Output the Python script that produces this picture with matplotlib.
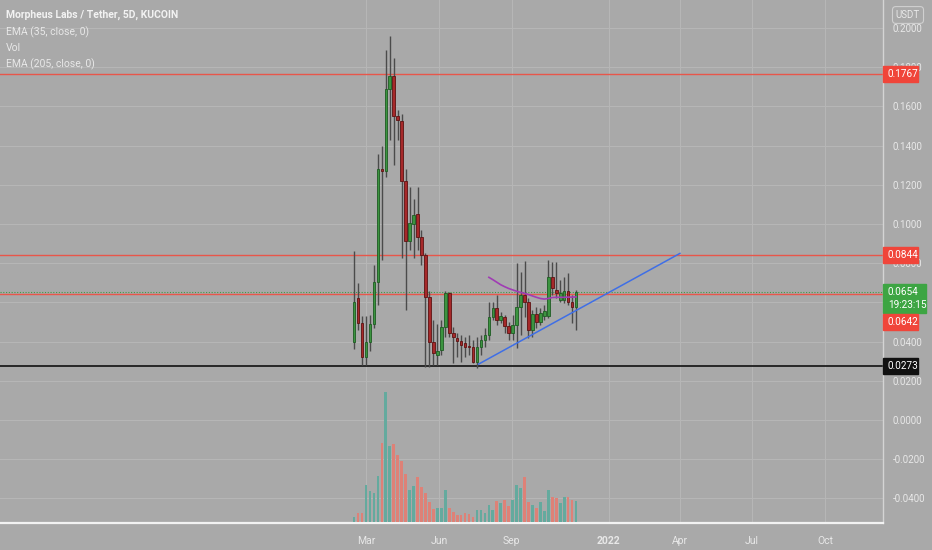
import numpy as np
import pandas as pd
import matplotlib
matplotlib.use("Agg")
import matplotlib.pyplot as plt
import matplotlib.dates as mdates
from matplotlib.patches import Rectangle

plt.rcParams['font.family'] = ['Roboto', 'DejaVu Sans']

# 5D candles, MORPHEUS LABS / USDT (KUCOIN)
first_candle = "2021-02-14"

opens = [0.040, 0.062, 0.0495, 0.032, 0.040, 0.049, 0.0706, 0.128, 0.127, 0.1687,
         0.1755, 0.155, 0.1527, 0.122, 0.0915, 0.100, 0.105, 0.0935, 0.084, 0.063,
         0.040, 0.033, 0.0355, 0.0473, 0.0646, 0.0442, 0.042, 0.0403, 0.0395, 0.0376,
         0.0374, 0.0294, 0.0374, 0.0408, 0.0434, 0.0527, 0.057, 0.051, 0.0527, 0.048,
         0.0442, 0.0485, 0.0578, 0.0638, 0.0604, 0.046, 0.054, 0.050, 0.053, 0.053,
         0.0731, 0.0663, 0.0612, 0.0612, 0.066, 0.0604, 0.0578]
highs = [0.086, 0.070, 0.053, 0.053, 0.0536, 0.079, 0.1357, 0.140, 0.1888, 0.196,
         0.1845, 0.158, 0.156, 0.128, 0.119, 0.113, 0.119, 0.097, 0.085, 0.066,
         0.051, 0.049, 0.051, 0.066, 0.0654, 0.0476, 0.0442, 0.0434, 0.0425, 0.0434,
         0.0408, 0.0425, 0.0434, 0.0468, 0.0604, 0.0604, 0.0638, 0.0553, 0.0536, 0.0502,
         0.0536, 0.0803, 0.0757, 0.081, 0.0621, 0.0561, 0.0578, 0.057, 0.0587, 0.0816,
         0.0808, 0.0808, 0.0714, 0.0731, 0.0748, 0.0638, 0.0663]
lows = [0.036, 0.046, 0.028, 0.028, 0.035, 0.047, 0.0587, 0.0816, 0.124, 0.1429,
        0.130, 0.143, 0.0826, 0.0561, 0.0867, 0.0826, 0.0867, 0.079, 0.027, 0.027,
        0.028, 0.028, 0.033, 0.0425, 0.0425, 0.029, 0.0323, 0.0298, 0.0323, 0.033,
        0.0289, 0.0264, 0.0332, 0.0374, 0.0408, 0.051, 0.0485, 0.0493, 0.0442, 0.0408,
        0.0408, 0.0366, 0.0434, 0.0527, 0.0417, 0.0425, 0.0468, 0.0485, 0.051, 0.0519,
        0.0638, 0.0621, 0.0604, 0.0595, 0.0587, 0.0493, 0.046]
closes = [0.060, 0.0495, 0.032, 0.040, 0.049, 0.0706, 0.128, 0.127, 0.1687, 0.1755,
          0.155, 0.153, 0.122, 0.0915, 0.1007, 0.1046, 0.0935, 0.084, 0.063, 0.040,
          0.034, 0.0354, 0.0473, 0.0646, 0.0442, 0.0422, 0.0403, 0.0383, 0.0374, 0.037,
          0.0298, 0.0374, 0.0408, 0.0434, 0.0527, 0.057, 0.051, 0.053, 0.048, 0.0442,
          0.0485, 0.0578, 0.0638, 0.0604, 0.046, 0.054, 0.050, 0.0544, 0.0555, 0.0731,
          0.0672, 0.0646, 0.0646, 0.066, 0.0604, 0.0578, 0.0654]
volumes = [50, 90, 90, 367, 307, 290, 457, 783, 1294, 760,
           777, 667, 607, 474, 317, 357, 450, 350, 290, 194,
           127, 140, 140, 317, 140, 94, 67, 67, 90, 74,
           50, 117, 117, 84, 167, 117, 207, 184, 217, 157,
           217, 367, 334, 450, 194, 167, 140, 194, 107, 317,
           244, 234, 190, 244, 250, 217, 204]

# EMA (205) values, visible from candle 35 on
ema_start = 34
ema_vals = [0.0728, 0.0716, 0.0703, 0.0690, 0.0680, 0.0671, 0.0664, 0.0657, 0.0651,
            0.0646, 0.0640, 0.0633, 0.0626, 0.0620, 0.0617, 0.0620, 0.0625, 0.0626,
            0.0626, 0.0626, 0.0627, 0.0627, 0.0628]

resistance_hi = 0.1767
resistance_mid = 0.0844
line_0642 = 0.0642
last_price = 0.0654
support = 0.0273
trend_dates = ["2021-07-21", "2022-04-01"]
trend_vals = [0.0285, 0.0850]

tick_dates = ["2021-03-01", "2021-06-01", "2021-09-01", "2022-01-01",
              "2022-04-01", "2022-07-01", "2022-10-01"]
tick_names = ["Mar", "Jun", "Sep", "2022", "Apr", "Jul", "Oct"]
price_ticks = [-0.04, -0.02, 0.0, 0.02, 0.04, 0.06, 0.08, 0.10, 0.12,
               0.14, 0.16, 0.18, 0.20]

bg = '#a9a9a9'
grid_c = '#b6b6b6'
txt_c = '#e8e8e8'
up_c, up_edge = '#3c9440', '#1f5c23'
dn_c, dn_edge = '#a6292a', '#5e1212'
vol_up, vol_dn = '#64aa9e', '#de8177'
tag_red = '#f0453a'

dates = pd.date_range(first_candle, periods=len(opens), freq="5D")
x = mdates.date2num(dates)
o = np.array(opens); c = np.array(closes)
h = np.array(highs); l = np.array(lows)
up = c >= o

fig = plt.figure(figsize=(9.32, 5.5), dpi=100, facecolor=bg)
W, H = 932, 550
ax = fig.add_axes([0, 27 / H, 883 / W, 523 / H])
ax.set_facecolor(bg)

mar1 = mdates.date2num(pd.Timestamp("2021-03-01"))
ax.set_xlim(mar1 - 461.7, mar1 + 652.2)
ax.set_ylim(-0.05255, 0.21429)

# the 0.0600 label sits fully under the last-price tag
ax.set_yticks(price_ticks)
ax.set_yticklabels(["" if abs(v - 0.06) < 1e-9 else f"{v:.4f}" for v in price_ticks])
ax.yaxis.tick_right()
ax.set_xticks(mdates.date2num(pd.to_datetime(tick_dates)))
ax.set_xticklabels(tick_names)
ax.tick_params(axis='both', length=0, colors=txt_c, labelsize=7)
ax.tick_params(axis='y', pad=7)
ax.tick_params(axis='x', pad=9, labelsize=7.5)
for lab in ax.get_xticklabels():
    if lab.get_text() == "2022":
        lab.set_fontweight('bold')
ax.grid(True, color=grid_c, lw=0.8)
ax.set_axisbelow(True)
for s in ['left', 'top']:
    ax.spines[s].set_visible(False)
ax.spines['bottom'].set_color('#f2f2f2')
ax.spines['bottom'].set_linewidth(1.6)
ax.spines['right'].set_color('#d4d4d4')
ax.spines['right'].set_linewidth(1.0)

# horizontal levels
ax.axhline(resistance_hi, color='#e8564a', lw=1.0, zorder=1.5)
ax.axhline(resistance_mid, color='#e8564a', lw=1.0, zorder=1.5)
ax.axhline(line_0642, color='#e8564a', lw=1.0, zorder=1.5)
ax.axhline(last_price, color='#3f9a45', lw=0.8, ls=(0, (1, 1.5)), zorder=1.5)
ax.axhline(support, color='#111111', lw=1.2, zorder=1.5)

# candles
ax.vlines(x, l, h, color='#4b4b4b', lw=1.0, zorder=2)
body_bot = np.minimum(o, c)
body_h = np.maximum(np.abs(c - o), 0.0008)
ax.bar(x, body_h, bottom=body_bot, width=3.3,
       color=np.where(up, up_c, dn_c), edgecolor=np.where(up, up_edge, dn_edge),
       lw=0.6, zorder=3)

# EMA and trendline
ax.plot(x[ema_start:ema_start + len(ema_vals)], ema_vals, color='#a03cb4', lw=1.2, zorder=4)
ax.plot(mdates.date2num(pd.to_datetime(trend_dates)), trend_vals,
        color='#3f6fe6', lw=1.1, zorder=4)

# volume overlay
axv = fig.add_axes(ax.get_position(), sharex=ax, facecolor='none')
axv.set_ylim(-13, 5217)
axv.bar(x, volumes, width=3.4, color=np.where(up, vol_up, vol_dn), lw=0)
axv.axis('off')
axv.set_xlim(ax.get_xlim())

# price tags on the right scale
fig.canvas.draw()


def y_px(v):
    return ax.transData.transform((0, v))[1]


def tag(yc, text, color, hgt=16, fg='white'):
    fig.patches.append(Rectangle((883 / W, (yc - hgt / 2) / H), 35 / W, hgt / H,
                                 transform=fig.transFigure, color=color, zorder=5))
    fig.text(888 / W, yc / H, text, color=fg, fontsize=7.2, va='center', ha='left', zorder=6)


tag(y_px(resistance_hi), f"{resistance_hi:.4f}", tag_red)
tag(y_px(resistance_mid), f"{resistance_mid:.4f}", tag_red)
yg = y_px(last_price)
fig.patches.append(Rectangle((883 / W, (yg - 21) / H), 43 / W, 29 / H,
                             transform=fig.transFigure, color='#3da543', zorder=5))
fig.text(888 / W, yg / H, f"{last_price:.4f}", color='white', fontsize=7.2, va='center', zorder=6)
fig.text(888 / W, (yg - 13) / H, "19:23:15", color='white', fontsize=7.2, va='center', zorder=6)
tag(yg - 30, f"{line_0642:.4f}", tag_red)
tag(y_px(support), f"{support:.4f}", '#111111')

fig.text(908 / W, 1 - 15 / H, "USDT", color=txt_c, fontsize=7, ha='center', va='center',
         bbox=dict(boxstyle='round,pad=0.35', fc=bg, ec='#d0d0d0', lw=0.8), zorder=7)

# legend
fig.text(6 / W, 1 - 15 / H, "Morpheus Labs / Tether, 5D, KUCOIN", color='#f2f2f2',
         fontsize=7.5, fontweight='bold', va='center')
fig.text(6 / W, 1 - 32 / H, "EMA (35, close, 0)", color=txt_c, fontsize=7.5, va='center')
fig.text(6 / W, 1 - 48 / H, "Vol", color=txt_c, fontsize=7.5, va='center')
fig.text(6 / W, 1 - 64 / H, "EMA (205, close, 0)", color=txt_c, fontsize=7.5, va='center')

fig.savefig("out.png", dpi=100, facecolor=bg)
